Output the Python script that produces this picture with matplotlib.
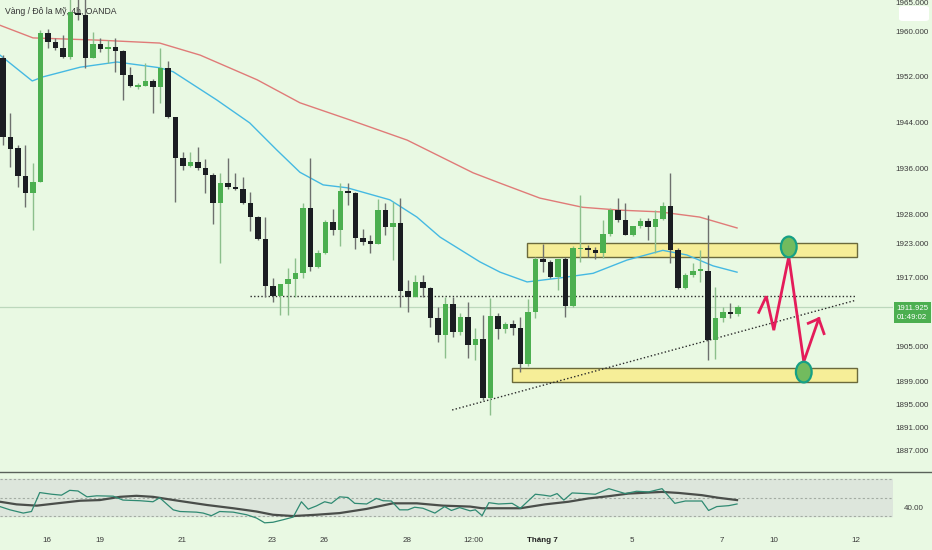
import matplotlib
matplotlib.use("Agg")
import matplotlib.pyplot as plt
import matplotlib.transforms as mtransforms
from matplotlib.patches import Rectangle, Ellipse, FancyBboxPatch
from matplotlib.lines import Line2D
import numpy as np

plt.rcParams['font.family'] = ['Liberation Sans', 'DejaVu Sans']

# ---------------- data ----------------
title = "Vàng / Đô la Mỹ, 4h, OANDA"

opens = [1955.3, 1941.5, 1939.6, 1934.7, 1931.8, 1933.7, 1959.7, 1958.1, 1957.0, 1955.5,
         1963.1, 1962.8, 1955.3, 1957.7, 1956.9, 1957.2, 1956.5, 1952.3, 1950.2, 1950.4,
         1951.3, 1950.2, 1953.6, 1945.0, 1937.9, 1936.5, 1937.2, 1936.1, 1934.9, 1930.0,
         1933.5, 1932.8, 1932.5, 1930.0, 1927.6, 1923.8, 1915.6, 1913.8, 1915.9, 1916.8,
         1917.8, 1929.2, 1918.9, 1921.3, 1926.7, 1925.3, 1932.0, 1931.8, 1923.9, 1923.4,
         1922.9, 1928.8, 1925.9, 1926.6, 1914.7, 1913.7, 1916.3, 1915.2, 1910.0, 1907.0,
         1912.4, 1907.6, 1910.2, 1905.3, 1906.4, 1896.1, 1910.4, 1908.1, 1909.0, 1908.3,
         1902.0, 1911.1, 1920.3, 1919.8, 1917.2, 1920.3, 1912.1, 1922.0, 1922.2, 1921.9,
         1921.3, 1924.6, 1928.8, 1927.1, 1924.5, 1926.0, 1926.9, 1925.9, 1927.3, 1929.5,
         1921.9, 1915.2, 1917.5, 1918.2, 1918.2, 1906.2, 1910.0, 1911.1, 1910.7]
highs = [1955.8, 1945.7, 1940.1, 1940.1, 1937.0, 1960.2, 1960.3, 1958.8, 1959.3, 1966.5,
         1967.0, 1967.0, 1959.8, 1958.8, 1958.4, 1958.8, 1956.7, 1953.7, 1950.9, 1954.4,
         1951.6, 1957.0, 1954.8, 1945.0, 1938.9, 1938.9, 1939.8, 1937.7, 1935.3, 1935.3,
         1937.9, 1935.3, 1934.6, 1932.0, 1927.8, 1927.6, 1917.0, 1915.9, 1918.7, 1920.5,
         1930.0, 1937.9, 1921.9, 1927.1, 1929.0, 1933.5, 1933.5, 1932.0, 1925.5, 1924.5,
         1930.7, 1930.0, 1930.2, 1930.9, 1916.6, 1917.5, 1917.5, 1915.4, 1911.9, 1913.7,
         1913.7, 1910.9, 1912.8, 1908.3, 1910.5, 1913.5, 1910.9, 1909.3, 1909.7, 1910.2,
         1913.3, 1920.6, 1922.9, 1920.1, 1920.3, 1920.6, 1922.5, 1931.4, 1922.7, 1922.3,
         1927.1, 1929.2, 1930.9, 1930.0, 1926.0, 1927.4, 1927.4, 1928.8, 1930.2, 1935.3,
         1922.2, 1917.8, 1919.6, 1921.9, 1927.9, 1915.4, 1911.9, 1912.6, 1912.3]
lows = [1940.1, 1936.3, 1932.8, 1929.3, 1925.3, 1933.7, 1957.0, 1956.7, 1955.3, 1955.1,
        1961.9, 1953.6, 1955.3, 1956.3, 1954.4, 1952.9, 1948.0, 1950.2, 1949.9, 1950.4,
        1945.7, 1947.5, 1944.8, 1930.2, 1935.8, 1936.3, 1935.8, 1931.8, 1926.4, 1919.6,
        1932.5, 1932.3, 1929.9, 1925.2, 1923.6, 1913.7, 1912.8, 1910.5, 1910.5, 1913.7,
        1917.0, 1918.2, 1918.7, 1921.2, 1924.5, 1922.5, 1929.7, 1922.0, 1922.7, 1921.3,
        1922.9, 1924.5, 1920.1, 1911.9, 1911.1, 1913.7, 1913.7, 1908.4, 1905.8, 1903.0,
        1906.7, 1907.0, 1903.0, 1902.7, 1895.7, 1893.1, 1906.4, 1907.4, 1907.0, 1900.6,
        1901.6, 1910.0, 1918.0, 1917.0, 1914.9, 1910.2, 1911.9, 1919.8, 1920.6, 1920.3,
        1920.5, 1924.3, 1926.7, 1924.5, 1924.3, 1925.7, 1923.6, 1921.3, 1927.1, 1919.6,
        1915.1, 1915.1, 1917.2, 1916.3, 1902.7, 1902.9, 1909.3, 1910.0, 1910.4]
closes = [1941.5, 1939.4, 1934.7, 1931.8, 1933.7, 1959.7, 1958.1, 1957.0, 1955.5, 1963.3,
          1962.8, 1955.3, 1957.7, 1956.9, 1957.2, 1956.5, 1952.3, 1950.4, 1950.6, 1951.3,
          1950.2, 1953.6, 1945.0, 1937.9, 1936.5, 1937.2, 1936.1, 1934.9, 1930.0, 1933.5,
          1932.8, 1932.5, 1930.0, 1927.6, 1923.8, 1915.6, 1913.8, 1915.9, 1916.8, 1917.8,
          1929.2, 1918.9, 1921.3, 1926.7, 1925.3, 1932.1, 1931.8, 1923.9, 1923.2, 1922.9,
          1928.8, 1925.9, 1926.6, 1914.7, 1913.7, 1916.3, 1915.2, 1910.0, 1907.0, 1912.4,
          1907.6, 1910.2, 1905.3, 1906.4, 1896.1, 1910.4, 1908.1, 1909.0, 1908.3, 1902.0,
          1911.1, 1920.3, 1919.8, 1917.2, 1920.3, 1912.1, 1922.2, 1922.2, 1921.9, 1921.3,
          1924.6, 1928.8, 1927.1, 1924.5, 1926.0, 1926.9, 1925.9, 1927.3, 1929.5, 1921.9,
          1915.2, 1917.5, 1918.2, 1918.4, 1906.2, 1910.0, 1911.1, 1910.7, 1911.925]

# moving averages on price (x in bar units)
ema_slow_x = [-0.4, 4.0, 12.9, 20.9, 26.3, 33.9, 39.6, 46.3, 53.9, 62.7, 66.3, 71.6,
              77.3, 82.3, 87.6, 92.9, 97.9]
ema_slow = [1961.0, 1958.8, 1958.4, 1957.9, 1955.8, 1951.5, 1947.5, 1944.5, 1941.0,
            1935.3, 1933.5, 1930.9, 1929.3, 1928.8, 1928.5, 1927.6, 1925.7]
ema_fast_x = [-0.4, 3.9, 5.3, 10.3, 15.2, 20.9, 22.7, 28.5, 32.9, 36.5, 39.6, 42.7, 45.9,
              51.6, 55.2, 58.3, 63.6, 66.3, 69.9, 74.3, 78.7, 83.2, 88.0, 91.2, 94.7, 97.9]
ema_fast = [1955.8, 1951.3, 1952.0, 1953.7, 1954.6, 1953.6, 1952.9, 1948.0, 1944.0,
            1939.3, 1935.4, 1933.2, 1932.7, 1930.6, 1927.6, 1924.1, 1919.8, 1918.0,
            1916.3, 1917.0, 1917.8, 1920.1, 1921.8, 1921.0, 1919.1, 1918.0]

# RSI pane
rsi_x = [-0.4, 0.93, 2.7, 3.8, 4.9, 6.5, 7.8, 8.9, 10.0, 11.2, 12.5, 14.7, 16.0, 18.3, 20.0,
         20.9, 22.7, 23.6, 25.8, 26.7, 27.8, 28.9, 30.7, 32.5, 33.8, 34.9, 36.0, 37.4, 38.7,
         39.8, 40.7, 41.8, 42.9, 43.8, 44.9, 46.0, 46.9, 48.5, 49.8, 50.7, 51.8, 52.9, 54.0,
         54.9, 56.0, 57.6, 58.9, 59.8, 60.9, 62.3, 63.0, 63.9, 64.8, 66.1, 67.9, 69.0, 71.0,
         72.1, 73.0, 73.9, 74.8, 75.9, 77.6, 79.0, 80.8, 83.0, 84.5, 86.1, 87.9, 89.6, 91.0,
         93.2, 94.1, 95.2, 96.8, 97.9]
rsi_vals = [40.5, 37.0, 33.5, 35.2, 55.6, 53.8, 52.8, 58.0, 57.3, 51.0, 52.1, 51.7, 47.5,
            46.8, 45.7, 50.0, 37.0, 35.2, 34.5, 33.5, 30.7, 35.2, 34.5, 31.7, 28.2, 23.0,
            23.6, 26.4, 29.2, 45.7, 37.7, 41.2, 45.7, 44.0, 51.0, 50.3, 44.0, 43.3, 49.3,
            46.8, 46.5, 37.0, 37.0, 39.8, 38.7, 33.5, 40.5, 36.3, 39.4, 35.9, 37.0, 30.7,
            44.7, 43.3, 44.0, 38.7, 53.8, 52.8, 51.7, 54.5, 47.5, 55.2, 54.5, 53.8, 59.8,
            54.5, 57.0, 56.3, 59.8, 44.0, 46.5, 46.5, 36.3, 40.5, 41.5, 43.3]
rsi_ma_x = [-0.4, 1.8, 4.5, 7.2, 10.3, 12.9, 15.6, 17.8, 20.0, 23.6, 27.2, 30.7, 33.8, 36.0,
            38.7, 41.8, 44.9, 48.5, 52.0, 55.2, 58.7, 62.3, 63.9, 65.6, 69.0, 72.3, 75.4,
            78.1, 80.8, 83.4, 86.1, 87.9, 90.1, 93.2, 95.4, 97.9]
rsi_ma = [45.7, 42.9, 41.5, 44.0, 46.8, 47.5, 51.0, 52.1, 51.0, 46.5, 42.2, 38.7, 35.2,
          31.7, 30.3, 31.7, 33.5, 38.0, 44.0, 44.0, 41.5, 40.5, 38.7, 38.7, 38.7, 42.9,
          45.7, 49.3, 51.7, 54.5, 55.6, 56.3, 55.2, 52.8, 50.0, 47.5]

# axis ticks
price_ticks = [1965, 1960, 1952, 1944, 1936, 1928, 1923, 1917, 1905, 1899, 1895, 1891, 1887]
time_tick_pos = [5.9, 12.9, 23.9, 35.9, 42.8, 53.9, 62.8, 71.9, 83.9, 95.9, 102.8, 113.7]
time_tick_labels = ['16', '19', '21', '23', '26', '28', '12:00', 'Tháng 7', '5', '7', '10', '12']
last_price = 1911.925
countdown = "01:49:02"

# drawings (bar index, price)
resist_zone = [69.9, 113.9, 1920.6, 1923.1]
support_zone = [67.9, 113.9, 1898.9, 1901.3]
flat_line_x = [32.9, 113.8]
flat_line_y = [1913.9, 1913.9]
trend_line_x = [59.9, 113.7]
trend_line_y = [1894.0, 1913.1]
path_x = [100.8, 101.8, 102.8, 104.8, 106.8, 108.8]
path_y = [1911.0, 1913.8, 1907.9, 1920.7, 1902.4, 1909.9]
head_x = [107.4, 108.8, 109.5]
head_y = [1909.1, 1909.9, 1907.3]
target_x = [104.8, 106.8]
target_y = [1922.4, 1900.6]

# ---------------- styling ----------------
BG = '#e9f9e3'
GREEN = '#4caf50'
BLACK = '#1b1d22'
TXT = '#3a3a3a'

W, H = 932, 550
fig = plt.figure(figsize=(W / 100, H / 100), dpi=100, facecolor=BG)
sep_y = 472
ax = fig.add_axes([0, 1 - sep_y / H, 893 / W, sep_y / H])
ax_r = fig.add_axes([0, 1 - 527 / H, 893 / W, 53 / H])
for a in (ax, ax_r):
    a.set_facecolor(BG)
    for s in a.spines.values():
        s.set_visible(False)

n = len(opens)
xi = np.arange(n)
o = np.array(opens); c = np.array(closes)
up = c >= o
body_lo = np.minimum(o, c)
body_h = np.maximum(np.abs(c - o), 0.28)
cols = np.where(up, GREEN, BLACK)
wick_cols = np.where(up, '#8cbf8c', '#6e706e')

for z in (resist_zone, support_zone):
    ax.add_patch(Rectangle((z[0], z[2]), z[1] - z[0], z[3] - z[2], facecolor='#f6ee98',
                           edgecolor='#6b6a3c', lw=1.0, zorder=1.2))

ax.axhline(last_price, color='#bcd8bc', lw=0.9, zorder=1)
ax.plot(ema_slow_x, ema_slow, color='#e07b78', lw=1.0, zorder=1.5)
ax.plot(ema_fast_x, ema_fast, color='#45b9e2', lw=1.0, zorder=1.5)
ax.plot(flat_line_x, flat_line_y, color='#2a2a2a', lw=1.0, ls=(0, (1, 1.6)), zorder=1.6)
ax.plot(trend_line_x, trend_line_y, color='#2a2a2a', lw=1.0, ls=(0, (1, 1.6)), zorder=1.6)

ax.vlines(xi, lows, highs, colors=wick_cols, lw=1.0, zorder=2)
ax.bar(xi, body_h, bottom=body_lo, width=0.74, color=cols, zorder=3, linewidth=0)

ax.plot(path_x, path_y, color='#e41c5a', lw=2.0, zorder=5, solid_joinstyle='miter')
ax.plot(head_x, head_y, color='#e41c5a', lw=2.0, zorder=5, solid_joinstyle='miter')
for tx, ty in zip(target_x, target_y):
    ax.add_patch(Ellipse((tx, ty), 2.1, 3.6, facecolor='#72bb5e', edgecolor='#16a085',
                         lw=1.6, zorder=6))

ax.set_xlim(-0.4, 118.7)
ax.set_ylim(1883.2, 1965.4)
ax.set_xticks([])
ax.yaxis.tick_right()
ax.set_yticks(price_ticks)
ax.set_yticklabels([f"{v:.3f}" for v in price_ticks])
ax.tick_params(axis='y', length=0, pad=2, labelsize=5.8, labelcolor=TXT)

ax.text(5 / 893, 1 - 12 / sep_y, title, transform=ax.transAxes, fontsize=6.2,
        color='#333333', va='center', ha='left', zorder=0.5)

trans = mtransforms.blended_transform_factory(ax.transAxes, ax.transData)
ax.annotate(f"{last_price:.3f}\n{countdown}", xy=(1.0, last_price), xycoords=trans,
            xytext=(2.4, -4.2), textcoords='offset points', ha='left', va='center',
            fontsize=5.6, color='white', linespacing=1.35, annotation_clip=False,
            bbox=dict(boxstyle='square,pad=0.35', fc=GREEN, ec='none'))

# RSI pane
ax_r.axhspan(30, 70, color='#dde6dc', zorder=0)
for lvl in (70, 50, 30):
    ax_r.axhline(lvl, color='#a3aca3', lw=0.8, ls=(0, (2, 2)), zorder=1)
ax_r.plot(rsi_ma_x, rsi_ma, color='#4a4e4a', lw=1.6, zorder=2)
ax_r.plot(rsi_x, rsi_vals, color='#2f8a72', lw=0.9, zorder=3)
ax_r.set_xlim(-0.4, 118.7)
ax_r.set_ylim(18.5, 75.6)
ax_r.yaxis.tick_right()
ax_r.set_yticks([40])
ax_r.set_yticklabels(['40.00'])
ax_r.tick_params(axis='y', length=0, pad=8, labelsize=5.8, labelcolor=TXT)
ax_r.set_xticks(time_tick_pos)
ax_r.set_xticklabels(time_tick_labels)
ax_r.tick_params(axis='x', length=0, pad=7, labelsize=5.8, labelcolor=TXT)
for lab in ax_r.get_xticklabels():
    if lab.get_text() == 'Tháng 7':
        lab.set_fontweight('bold')
        lab.set_color('#222222')

# pane separator and top-right overlay box
fig.add_artist(Line2D([0, 1], [1 - sep_y / H] * 2, transform=fig.transFigure,
                      color='#5a625a', lw=1.0))
fig.add_artist(FancyBboxPatch((899 / W, 1 - 21 / H), 30 / W, 15 / H,
                              boxstyle='round,pad=0,rounding_size=0.004',
                              transform=fig.transFigure, fc='white', ec='none'))

fig.savefig('out.png', dpi=100, facecolor=BG)
